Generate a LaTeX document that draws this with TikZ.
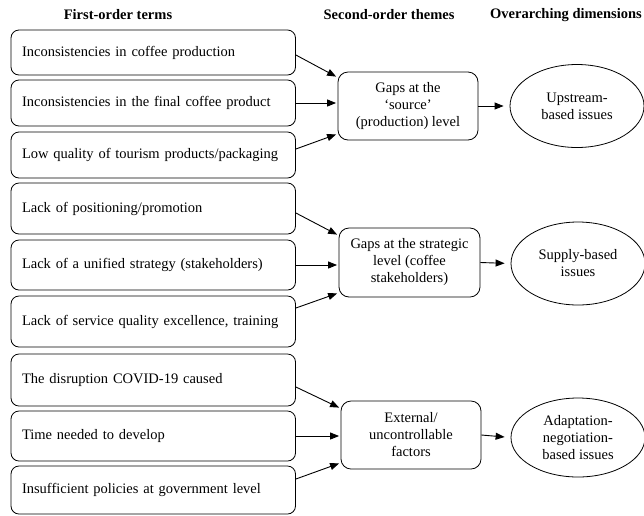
\documentclass[tikz,border=0pt]{standalone}
\usepackage{fontspec}
\setmainfont{Liberation Serif}
\usetikzlibrary{arrows.meta,shapes.geometric}
\begin{document}
\begin{tikzpicture}[x=1pt,y=-1pt,
  every node/.style={font=\fontsize{14.5}{17}\selectfont},
  term/.style={draw,line width=0.8pt,rounded corners=8pt,minimum width=284.5pt,
    text width=262.5pt,inner xsep=11pt,align=left},
  theme/.style={draw,line width=0.8pt,rounded corners=10pt,minimum width=140pt,
    minimum height=68pt,align=center,inner sep=2pt},
  dim/.style={draw,line width=0.8pt,ellipse,minimum width=134pt,align=center,inner sep=1pt},
  head/.style={font=\fontsize{14.5}{17}\selectfont\bfseries},
  arr/.style={line width=0.9pt,-{Triangle[length=9pt,width=7pt]}}
]
\useasboundingbox (0,0) rectangle (644,515);
\node[head] (h1) at (118,15) {First-order terms};
\node[head] (h2) at (389,15) {Second-order themes};
\node[head] (h3) at (566,15) {Overarching dimensions};

\node[term,minimum height=45pt] (b1) at (153.25,52.5) {Inconsistencies in coffee production};
\node[term,minimum height=46pt] (b2) at (153.25,103) {Inconsistencies in the final coffee product};
\node[term,minimum height=46pt] (b3) at (153.25,155) {Low quality of tourism products/packaging};
\node[term,minimum height=51pt] (b4) at (153.25,208.5) {Lack of positioning/promotion};
\node[term,minimum height=50pt] (b5) at (153.25,265) {Lack of a unified strategy (stakeholders)};
\node[term,minimum height=51pt] (b6) at (153.25,321.5) {Lack of service quality excellence, training};
\node[term,minimum height=52pt] (b7) at (153.25,380) {The disruption COVID-19 caused};
\node[term,minimum height=50pt] (b8) at (153.25,436) {Time needed to develop};
\node[term,minimum height=48pt] (b9) at (153.25,490) {Insufficient policies at government level};

\node[theme] (m1) at (408,106) {Gaps at the\\`source'\\(production) level};
\node[theme,minimum width=141pt,minimum height=69pt] (m2) at (409.5,262.5) {Gaps at the strategic\\level (coffee\\stakeholders)};
\node[theme] (m3) at (411,435) {External/\\uncontrollable\\factors};

\node[dim,minimum height=83pt] (e1) at (577,106) {Upstream-\\based issues};
\node[dim,minimum height=83pt] (e2) at (578,263.5) {Supply-based\\issues};
\node[dim,minimum height=79pt] (e3) at (578,437.5) {Adaptation-\\negotiation-\\based issues};

\draw[arr] ([yshift=-2.5pt]b1.east) -- ([xshift=-1.5pt,yshift=-5pt]m1.north west);
\draw[arr] (b2.east) -- ([xshift=-1.5pt]m1.west |- b2.east);
\draw[arr] ([yshift=6pt]b3.east) -- ([xshift=-1.5pt,yshift=6pt]m1.south west);

\draw[arr] ([yshift=-4.5pt]b4.east) -- ([xshift=-1.5pt,yshift=-7pt]m2.north west);
\draw[arr] (b5.east) -- ([xshift=-1.5pt]m2.west |- b5.east);
\draw[arr] ([yshift=13.5pt]b6.east) -- ([xshift=-1.5pt,yshift=4pt]m2.south west);

\draw[arr] ([yshift=-7pt]b7.east) -- ([xshift=-1.5pt,yshift=-7pt]m3.north west);
\draw[arr] (b8.east) -- ([xshift=-1.5pt]m3.west |- b8.east);
\draw[arr] ([yshift=11pt]b9.east) -- ([xshift=-1.5pt,yshift=6pt]m3.south west);

\draw[arr,shorten >=6pt] (m1.east) -- (e1.west);
\draw[arr,shorten >=6pt] (m2.east) -- (e2.west);
\draw[arr,shorten >=6pt] (m3.east) -- (e3.west);
\end{tikzpicture}
\end{document}
